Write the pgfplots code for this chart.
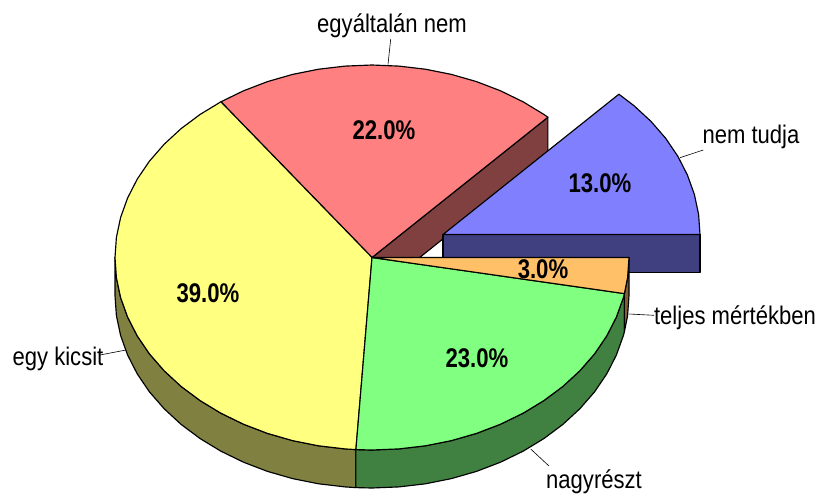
\documentclass[border=0pt]{standalone}
\usepackage{pgfplots}
\pgfplotsset{compat=1.18}
\usepackage{fontspec}
\setmainfont[FakeStretch=0.865]{Liberation Sans}
\newfontfamily\valfont[FakeStretch=0.82]{Liberation Sans Bold}
\definecolor{cblue}{RGB}{128,128,255}
\definecolor{cblued}{RGB}{64,64,128}
\definecolor{cred}{RGB}{255,128,128}
\definecolor{credd}{RGB}{128,64,64}
\definecolor{cyel}{RGB}{255,255,128}
\definecolor{cyeld}{RGB}{128,128,64}
\definecolor{cgrn}{RGB}{128,255,128}
\definecolor{cgrnd}{RGB}{64,128,64}
\definecolor{corg}{RGB}{255,192,104}
\definecolor{corgd}{RGB}{128,96,52}
\begin{document}
\begin{tikzpicture}
\begin{axis}[
  scale only axis, width=817pt, height=496pt,
  xmin=0, xmax=817, ymin=0, ymax=496, y dir=reverse,
  axis lines=none, clip=false, anchor=south west, at={(0,0)},
  every axis plot/.append style={line width=1.15pt, line join=round},
]
\addplot[draw=none] coordinates {(0,0)(817,496)};
% side faces
\addplot[fill=credd,draw=black] coordinates {(372,257.5)(547.9,117.2)(547.9,155.2)(372,295.5)} --cycle;
\addplot[fill=cyeld,draw=black] coordinates {(115,257.5)(116.4,277.6)(120.6,297.5)(127.6,317)(137.2,335.8)(149.4,353.8)(164.1,370.7)(181,386.3)(200,400.5)(220.9,413.2)(243.5,424.2)(267.5,433.4)(292.6,440.6)(318.6,445.8)(345.1,448.9)(355.9,449.6)
(355.9,487.6)(345.1,486.9)(318.6,483.8)(292.6,478.6)(267.5,471.4)(243.5,462.2)(220.9,451.2)(200,438.5)(181,424.3)(164.1,408.7)(149.4,391.8)(137.2,373.8)(127.6,355)(120.6,335.5)(116.4,315.6)(115,295.5)} --cycle;
\addplot[fill=cgrnd,draw=black] coordinates {(355.9,449.6)(372,450)(398.9,448.9)(425.4,445.8)(451.4,440.6)(476.5,433.4)(500.5,424.2)(523.1,413.2)(544,400.5)(563,386.3)(579.9,370.7)(594.6,353.8)(606.8,335.8)(616.4,317)(623.4,297.5)(624.4,293.6)
(624.4,331.6)(623.4,335.5)(616.4,355)(606.8,373.8)(594.6,391.8)(579.9,408.7)(563,424.3)(544,438.5)(523.1,451.2)(500.5,462.2)(476.5,471.4)(451.4,478.6)(425.4,483.8)(398.9,486.9)(372,488)(355.9,487.6)} --cycle;
\addplot[fill=cblued,draw=black] coordinates {(443,234.5)(700,234.5)(700,272.5)(443,272.5)} --cycle;
\addplot[fill=corgd,draw=black] coordinates {(624.4,293.6)(627.6,277.6)(629,257.5)(629,295.5)(627.6,315.6)(624.4,331.6)} --cycle;
% top faces
\addplot[fill=cblue,draw=black] coordinates {(443,234.5)(700,234.5)(698.6,214.4)(694.4,194.5)(687.4,175)(677.8,156.2)(665.6,138.2)(650.9,121.3)(634,105.7)(618.9,94.2)} --cycle;
\addplot[fill=cred,draw=black] coordinates {(372,257.5)(547.9,117.2)(544,114.5)(523.1,101.8)(500.5,90.8)(476.5,81.6)(451.4,74.4)(425.4,69.2)(398.9,66.1)(372,65)(345.1,66.1)(318.6,69.2)(292.6,74.4)(267.5,81.6)(243.5,90.8)(220.9,101.8)} --cycle;
\addplot[fill=cyel,draw=black] coordinates {(372,257.5)(220.9,101.8)(200,114.5)(181,128.7)(164.1,144.3)(149.4,161.2)(137.2,179.2)(127.6,198)(120.6,217.5)(116.4,237.4)(115,257.5)(116.4,277.6)(120.6,297.5)(127.6,317)(137.2,335.8)(149.4,353.8)(164.1,370.7)(181,386.3)(200,400.5)(220.9,413.2)(243.5,424.2)(267.5,433.4)(292.6,440.6)(318.6,445.8)(345.1,448.9)(355.9,449.6)} --cycle;
\addplot[fill=cgrn,draw=black] coordinates {(372,257.5)(355.9,449.6)(372,450)(398.9,448.9)(425.4,445.8)(451.4,440.6)(476.5,433.4)(500.5,424.2)(523.1,413.2)(544,400.5)(563,386.3)(579.9,370.7)(594.6,353.8)(606.8,335.8)(616.4,317)(623.4,297.5)(624.4,293.6)} --cycle;
\addplot[fill=corg,draw=black] coordinates {(372,257.5)(624.4,293.6)(627.6,277.6)(629,257.5)} --cycle;
% leader lines
\addplot[black,line width=0.6pt] coordinates {(388,64.5)(390.7,39)};
\addplot[black,line width=0.6pt] coordinates {(680,157.7)(703.3,150)};
\addplot[black,line width=0.6pt] coordinates {(629.3,314)(654,315.3)};
\addplot[black,line width=0.6pt] coordinates {(100,355)(126,350)};
\addplot[black,line width=0.6pt] coordinates {(530.7,449)(549,466)};
% labels
\tikzset{lab/.style={anchor=base,inner sep=0pt,font=\fontsize{25.5}{28}\selectfont},
         val/.style={anchor=base,inner sep=0pt,font=\fontsize{27}{28}\valfont}}
\node[lab] at (axis cs:392,32) {egyáltalán nem};
\node[lab] at (axis cs:751,143) {nem tudja};
\node[lab] at (axis cs:735,324) {teljes mértékben};
\node[lab] at (axis cs:58,365) {egy kicsit};
\node[lab] at (axis cs:594,488) {nagyrészt};
\node[val] at (axis cs:384,139) {22.0\%};
\node[val] at (axis cs:600,192) {13.0\%};
\node[val] at (axis cs:208,302) {39.0\%};
\node[val] at (axis cs:477,367) {23.0\%};
\node[val] at (axis cs:543,278) {3.0\%};
\end{axis}
\end{tikzpicture}
\end{document}
